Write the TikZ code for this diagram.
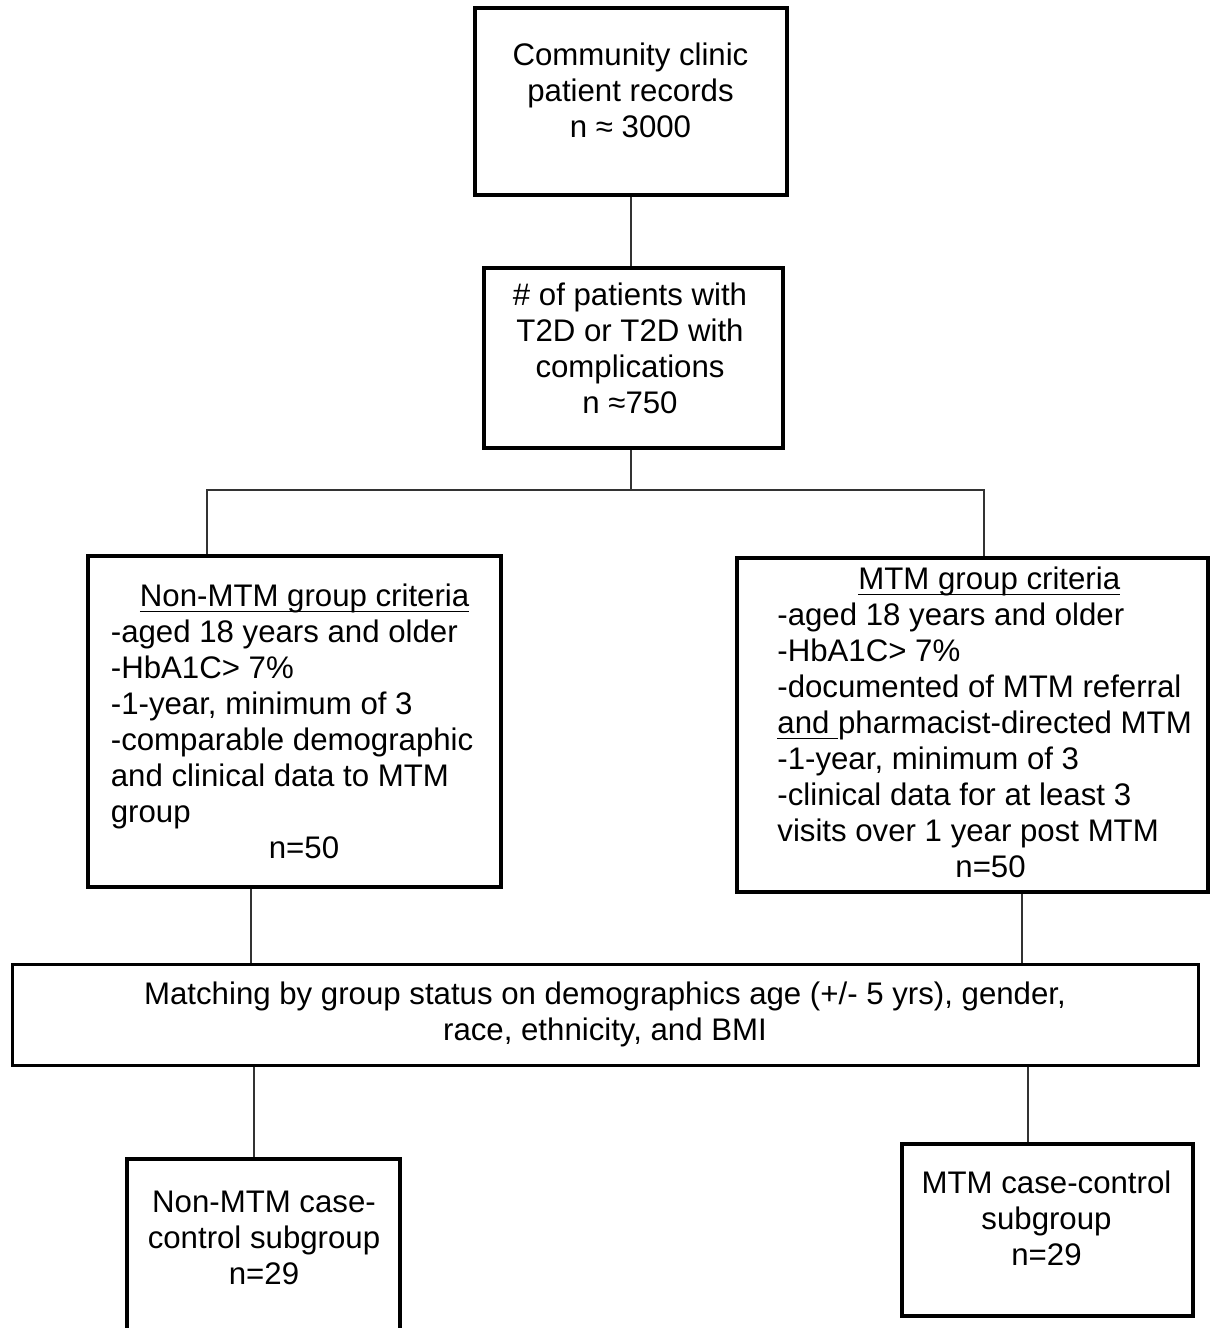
\documentclass[tikz,border=0pt]{standalone}
\usepackage{fontspec}
\setmainfont{Liberation Sans}
\newcommand\myst{\rule{0pt}{12pt}}
\newcommand\myul[1]{\leavevmode\setbox0\hbox{#1}\rlap{\rule[-3pt]{\wd0}{0.7pt}}\box0}
\begin{document}
\begin{tikzpicture}[x=0.5pt,y=-0.5pt,
  box/.style={draw=black,line width=2pt,inner sep=0pt},
  txt/.style={font=\fontsize{15.6}{18}\selectfont,inner sep=0pt,anchor=north,align=center},
  ltxt/.style={font=\fontsize{15.6}{18}\selectfont,inner sep=0pt,anchor=north west,align=left},
  conn/.style={draw=black!80,line width=0.75pt}]
\useasboundingbox[fill=white] (0,0) rectangle (1212,1328);

% boxes
\node[box,minimum width=156pt,minimum height=93.5pt] (top) at (631,101.5) {};
\node[box,minimum width=149.5pt,minimum height=90pt] (b2) at (633.5,358) {};
\node[box,minimum width=206.5pt,minimum height=165.5pt] (left) at (294.5,721.5) {};
\node[box,minimum width=235.5pt,minimum height=167pt] (right) at (972.5,725) {};
\node[box,line width=1.5pt,minimum width=593pt,minimum height=50.5pt] (match) at (605,1014.5) {};
\node[box,minimum width=136.5pt,minimum height=95pt] (bl) at (263.5,1254) {};
\node[box,minimum width=145.5pt,minimum height=86pt] (br) at (1047.5,1230) {};

% texts
\node[txt] (topt) at (630.5,41) {\myst Community clinic\\patient records\\n ≈ 3000};
\node[txt] (b2t) at (630,281) {\myst\# of patients with\\T2D or T2D with\\complications\\n ≈750};
\node[ltxt] (leftt) at (110.5,582) {\myst\hspace*{14.5pt}\myul{Non-MTM group criteria}\\-aged 18 years and older\\-HbA1C> 7\%\\-1-year, minimum of 3\\-comparable demographic\\and clinical data to MTM\\group\\\hspace*{79pt}n=50};
\node[ltxt] (rightt) at (777,565) {\myst\hspace*{40.5pt}\myul{MTM group criteria}\\-aged 18 years and older\\-HbA1C> 7\%\\-documented of MTM referral\\\myul{and }pharmacist-directed MTM\\-1-year, minimum of 3\\-clinical data for at least 3\\visits over 1 year post MTM\\\hspace*{89pt}n=50};
\node[txt] (matcht) at (605,980) {\myst Matching by group status on demographics age (+/- 5 yrs), gender,\\race, ethnicity, and BMI};
\node[txt] (blt) at (264,1188) {\myst Non-MTM case-\\control subgroup\\n=29};
\node[txt] (brt) at (1046.5,1169) {\myst MTM case-control\\subgroup\\n=29};

% connectors
\coordinate (jl) at (207,490);
\coordinate (jr) at (984,490);
\coordinate (a1) at ([xshift=-21.75pt]left.south);
\coordinate (a2) at ([xshift=24.75pt]right.south);
\coordinate (c1) at ([xshift=-175.5pt]match.south);
\coordinate (c2) at ([xshift=211.5pt]match.south);
\draw[conn] (top.south) -- (top.south |- b2.north);
\draw[conn] (top.south |- b2.south) -- (top.south |- jl);
\draw[conn] (left.north -| jl) -- (jl) -- (jr) -- (right.north -| jr);
\draw[conn] (a1) -- (a1 |- match.north);
\draw[conn] (a2) -- (a2 |- match.north);
\draw[conn] (c1) -- (c1 |- bl.north);
\draw[conn] (c2) -- (c2 |- br.north);
\end{tikzpicture}
\end{document}
